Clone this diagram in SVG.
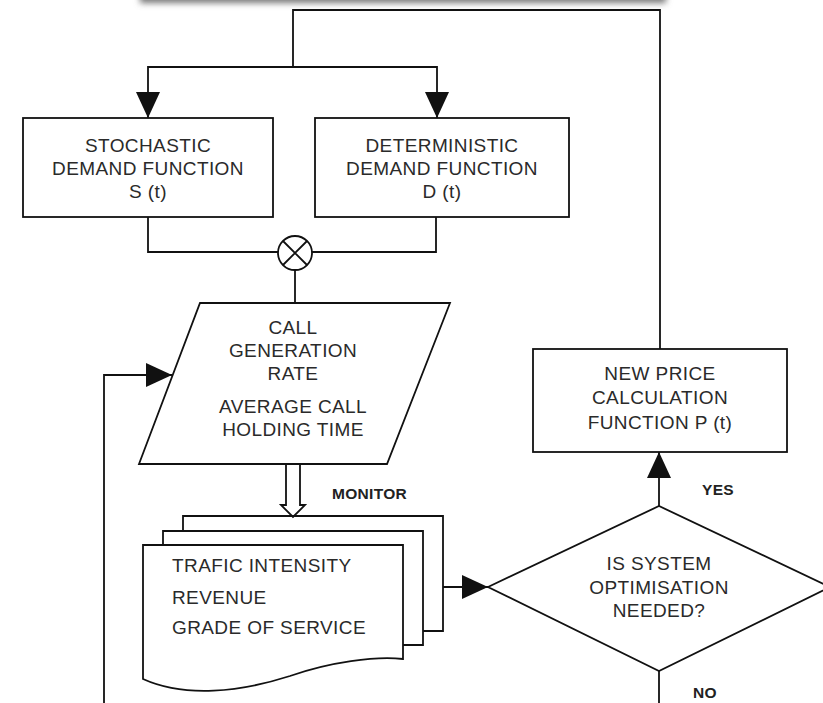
<svg xmlns="http://www.w3.org/2000/svg" width="823" height="703" viewBox="0 0 823 703">
<style>
.bx{fill:#fff;stroke:#111;stroke-width:1.8}
.ln{fill:none;stroke:#111;stroke-width:1.8}
.t{font-family:"Liberation Sans",Arial,sans-serif;font-size:19px;letter-spacing:0.4px;fill:#2a2a2a;text-anchor:middle}
.tl{font-family:"Liberation Sans",Arial,sans-serif;font-size:19px;letter-spacing:0.4px;fill:#2a2a2a}
.lb{font-family:"Liberation Sans",Arial,sans-serif;font-size:15.5px;font-weight:bold;letter-spacing:0.3px;fill:#222}
</style>
<defs>
<marker id="arr" viewBox="0 0 26 24" refX="26" refY="12" markerWidth="26" markerHeight="24" markerUnits="userSpaceOnUse" orient="auto">
<path d="M0,0 L26,12 L0,24 z" fill="#111"/>
</marker>
<filter id="blur" x="-10%" y="-100%" width="120%" height="300%"><feGaussianBlur stdDeviation="3"/></filter>
</defs>
<rect width="823" height="703" fill="#fff"/>
<rect x="140" y="-30" width="526" height="33" fill="#777" filter="url(#blur)"/>

<g id="connectors">
<path class="ln" d="M660,349 V10 H293 V67"/>
<path class="ln" d="M293,67 H148 V118" marker-end="url(#arr)"/>
<path class="ln" d="M293,67 H437 V118" marker-end="url(#arr)"/>
<path class="ln" d="M148,217 V252 H278"/>
<path class="ln" d="M436,217 V252 H312"/>
<path class="ln" d="M295,270 V303"/>
<path class="ln" d="M286,464 V505 H281 L293,517 L305,505 H300 V464" fill="#fff"/>
<path class="ln" d="M443,587 H488" marker-end="url(#arr)"/>
<path class="ln" d="M659,506 V452" marker-end="url(#arr)"/>
<path class="ln" d="M659,671 V703"/>
<path class="ln" d="M104,703 V375 H172" marker-end="url(#arr)"/>
</g>

<g id="stochastic">
<rect class="bx" x="23" y="118" width="250" height="99"/>
<text class="t" x="148" y="152">STOCHASTIC</text>
<text class="t" x="148" y="175">DEMAND FUNCTION</text>
<text class="t" x="148" y="198">S (t)</text>
</g>

<g id="deterministic">
<rect class="bx" x="315" y="118" width="254" height="99"/>
<text class="t" x="442" y="152">DETERMINISTIC</text>
<text class="t" x="442" y="175">DEMAND FUNCTION</text>
<text class="t" x="442" y="198">D (t)</text>
</g>

<g id="multiplier">
<circle class="bx" cx="295" cy="253" r="17"/>
<path class="ln" d="M283,241 L307,265 M307,241 L283,265"/>
</g>

<g id="call-rate">
<path class="bx" d="M200,303 H450 L387,464 H139 Z"/>
<text class="t" x="293" y="334">CALL</text>
<text class="t" x="293" y="357">GENERATION</text>
<text class="t" x="293" y="380">RATE</text>
<text class="t" x="293" y="413">AVERAGE CALL</text>
<text class="t" x="293" y="436">HOLDING TIME</text>
</g>

<g id="monitor-label">
<text class="lb" x="332" y="499">MONITOR</text>
</g>

<g id="documents">
<path class="ln" d="M183,531 V516 H443 V631 H423"/>
<path class="ln" d="M163,545 V531 H423 V645 H403"/>
<path class="bx" d="M143,545 H403 V659 C375,656 330,662 290,676 C240,692 185,698 143,679 Z"/>
<text class="tl" x="172" y="572">TRAFIC INTENSITY</text>
<text class="tl" x="172" y="604">REVENUE</text>
<text class="tl" x="172" y="634">GRADE OF SERVICE</text>
</g>

<g id="new-price">
<rect class="bx" x="533" y="349" width="254" height="103"/>
<text class="t" x="660" y="380">NEW PRICE</text>
<text class="t" x="660" y="404">CALCULATION</text>
<text class="t" x="660" y="429">FUNCTION P (t)</text>
</g>

<g id="decision">
<path class="bx" d="M488,587 L659,506 L830,587 L659,671 Z"/>
<text class="t" x="659" y="570">IS SYSTEM</text>
<text class="t" x="659" y="594">OPTIMISATION</text>
<text class="t" x="659" y="617">NEEDED?</text>
</g>

<g id="labels">
<text class="lb" x="702" y="495">YES</text>
<text class="lb" x="693" y="698">NO</text>
</g>
</svg>
